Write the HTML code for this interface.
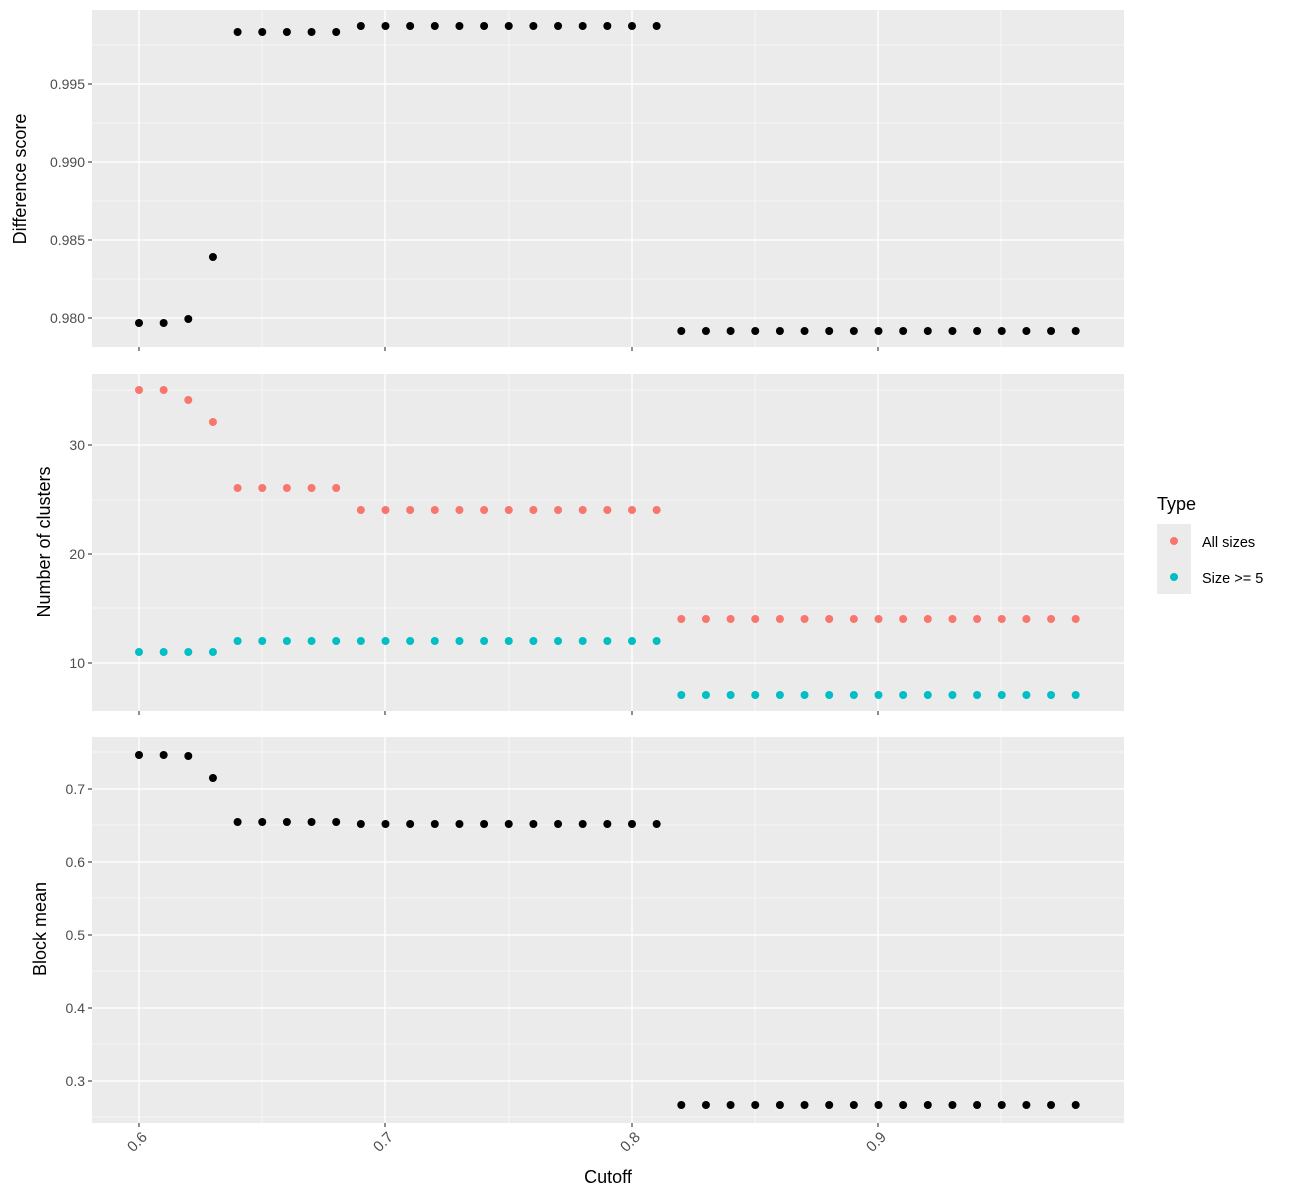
<!DOCTYPE html>
<html><head><meta charset="utf-8"><style>body{margin:0;background:#fff}svg{display:block;font-family:"Liberation Sans",sans-serif}</style></head>
<body>
<svg id="s" width="1300" height="1200" viewBox="0 0 1300 1200">
<g id="panels"></g>
<g font-size="14" fill="#4d4d4d" text-anchor="end">
<text x="85" y="89">0.995</text><text x="85" y="167">0.990</text><text x="85" y="245">0.985</text><text x="85" y="323">0.980</text>
<text x="85" y="450">30</text><text x="85" y="559">20</text><text x="85" y="668">10</text>
<text x="85" y="794">0.7</text><text x="85" y="867">0.6</text><text x="85" y="940">0.5</text><text x="85" y="1013">0.4</text><text x="85" y="1086">0.3</text>
</g>
<g font-size="15" fill="#4d4d4d" text-anchor="end">
<text transform="translate(148,1138) rotate(-45)">0.6</text>
<text transform="translate(394,1138) rotate(-45)">0.7</text>
<text transform="translate(641,1138) rotate(-45)">0.8</text>
<text transform="translate(887,1138) rotate(-45)">0.9</text>
</g>
<g font-size="18" fill="#000" text-anchor="middle">
<text x="608" y="1183">Cutoff</text>
<text transform="translate(26,179) rotate(-90)">Difference score</text>
<text transform="translate(50,542) rotate(-90)">Number of clusters</text>
<text transform="translate(46,929) rotate(-90)">Block mean</text>
</g>
<text x="1157" y="510" font-size="18">Type</text>
<rect x="1157" y="524" width="34" height="70" fill="#ebebeb"/>
<circle cx="1174" cy="541" r="4" fill="#F8766D"/>
<circle cx="1174" cy="577" r="4" fill="#00BFC4"/>
<text x="1202" y="547" font-size="14.5">All sizes</text>
<text x="1202" y="583" font-size="14.5">Size &gt;= 5</text>
</svg>
<script>
var NS="http://www.w3.org/2000/svg",g=document.getElementById("panels");
function el(t,a){var e=document.createElementNS(NS,t);for(var k in a)e.setAttribute(k,a[k]);g.appendChild(e);return e;}
function X(c){return 139+(c-0.6)*2465;}
var panels=[{t:10,b:347,maj:[84,162,240,318],min:[45,123,201,279]},
{t:374,b:711,maj:[445,554,663],min:[390,500,608]},
{t:737,b:1123,maj:[789,862,935,1008,1081],min:[752,825,898,971,1044,1117]}];
panels.forEach(function(p){
el("rect",{x:92,y:p.t,width:1032,height:p.b-p.t,fill:"#ebebeb"});
p.min.forEach(function(y){el("line",{x1:92,x2:1124,y1:y,y2:y,stroke:"#fff","stroke-width":0.6});});
[262,509,755,1001].forEach(function(x){el("line",{x1:x,x2:x,y1:p.t,y2:p.b,stroke:"#fff","stroke-width":0.6});});
p.maj.forEach(function(y){el("line",{x1:92,x2:1124,y1:y,y2:y,stroke:"#fff","stroke-width":1.3});el("line",{x1:88,x2:92,y1:y,y2:y,stroke:"#333","stroke-width":1.1});});
[139,385,632,878].forEach(function(x){el("line",{x1:x,x2:x,y1:p.t,y2:p.b,stroke:"#fff","stroke-width":1.3});el("line",{x1:x,x2:x,y1:p.b,y2:p.b+4,stroke:"#333","stroke-width":1.1});});
});
function series(f,col){for(var i=0;i<=38;i++){var c=0.6+i/100;el("circle",{cx:X(c),cy:f(i),r:4,fill:col});}}
series(function(i){return i<2?323:i==2?319:i==3?257:i<9?32:i<22?26:331;},"#000");
series(function(i){return i<2?390:i==2?400:i==3?422:i<9?488:i<22?510:619;},"#F8766D");
series(function(i){return i<4?652:i<22?641:695;},"#00BFC4");
series(function(i){return i<2?755:i==2?756:i==3?778:i<9?822:i<22?824:1105;},"#000");
</script>
</body></html>
